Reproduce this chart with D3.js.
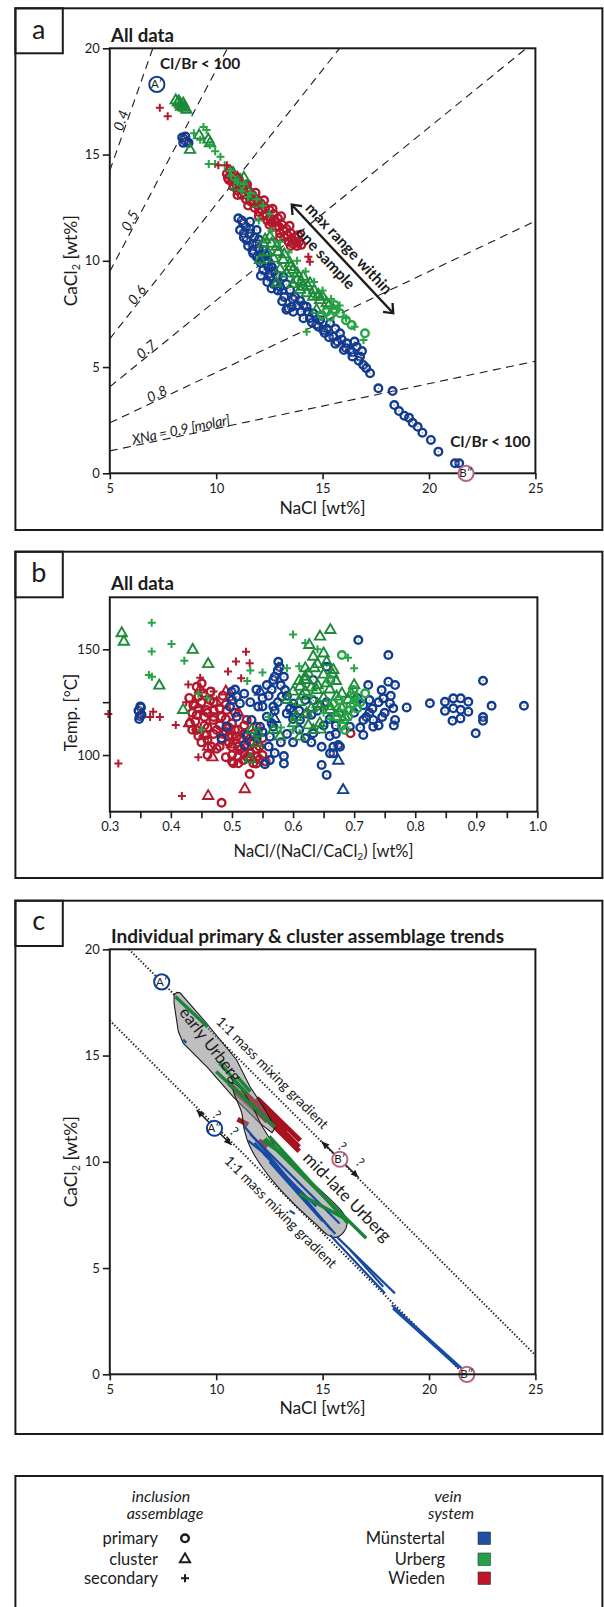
<!DOCTYPE html>
<html>
<head>
<meta charset="utf-8">
<script src="https://cdnjs.cloudflare.com/ajax/libs/d3/7.8.5/d3.min.js"></script>
<style>
  body { margin: 0; background: #fff; }
  svg { display: block; }
  text { font-family: Lato, "Open Sans", sans-serif; fill: #1b1b1b; }
</style>
</head>
<body>
<script>
// ---------- data: panel a (NaCl wt%, CaCl2 wt%) ----------
const aMuPrimary = [
  [8.4,15.8],[8.5,15.7],[8.6,15.6],[8.45,15.55],[8.55,15.85],[8.7,15.55],
  [11.04,12.0],[11.27,11.76],[11.59,11.84],[11.12,11.45],[11.59,11.29],[11.9,11.45],[11.43,10.98],[11.9,10.82],
  [12.21,10.51],[11.74,10.35],[12.37,10.04],[12.21,9.57],[12.53,9.25],[12.84,8.94],[13.15,9.25],
  [11.9,10.19],[12.37,9.88],[12.53,9.41],[13.0,8.78],[13.47,8.63],[13.55,7.84],[13.62,7.6],[13.94,8.12],
  [14.25,7.84],[14.56,7.53],[14.88,7.21],[15.03,6.74],[15.35,7.06],[15.5,6.43],[15.82,6.59],[16.13,6.12],
  [16.29,5.8],[16.6,5.96],[16.76,5.49],[16.91,5.1],[17.23,4.71],[13.39,7.76],
  [11.3,11.3],[11.7,10.8],[12.0,10.1],[12.6,9.7],[12.9,9.3],[13.3,8.9],[13.7,8.3],[14.0,7.6],[14.4,7.3],
  [14.7,7.0],[15.1,6.6],[15.7,6.2],[16.0,5.8],[16.4,5.5],[12.1,9.9],[12.7,8.9],[13.2,8.3],[14.1,7.9],[15.6,6.8],
  [11.2,11.9],[11.4,11.6],[11.6,11.5],[11.8,11.1],[11.3,11.1],[11.5,10.7],[11.7,10.5],[12.0,10.6],[12.0,11.0],
  [12.3,10.3],[12.45,9.7],[12.7,9.5],[12.1,9.3],[12.4,9.0],[12.6,8.7],[12.9,8.6],[13.1,8.1],[13.3,7.7],[13.6,8.2],
  [13.8,7.9],[14.1,7.3],[14.3,7.6],[14.5,7.1],[14.8,6.9],[14.9,7.4],[15.2,6.8],[15.3,6.4],[15.6,6.1],[15.9,6.3],
  [16.1,5.9],[16.4,5.7],[16.5,6.2],[16.7,5.3],[16.85,5.75],[17.05,4.95],
  [17.62,4.0],[18.29,3.87],[18.37,3.21],[18.59,2.93],[18.84,2.71],[19.06,2.62],[19.23,2.38],[19.47,2.19],
  [19.69,1.91],[20.09,1.57],[20.44,1.02],[21.22,0.47],[21.42,0.47]
];
const aMuCluster = [[12.2,10.2],[12.6,9.8],[13.1,8.6]];
const aUrPrimary = [
  [15.57,7.92],[16.37,6.98],[16.99,6.59],[15.18,7.6],[15.82,7.53],[15.35,7.37],[14.96,7.45],[16.1,7.2],[15.6,7.7]
];
const aUrCluster = [
  [8.1,17.55],[8.2,17.45],[8.3,17.35],[8.4,17.3],[8.5,17.2],[8.6,17.1],[8.25,17.5],[8.45,17.4],[8.35,17.25],
  [8.77,15.22],[9.71,15.53],[9.63,15.7],[9.2,15.9],
  [10.8,14.12],[11.12,13.8],[11.43,13.33],[11.74,13.02],[10.96,13.49],[11.3,13.9],[12.0,12.7],
  [12.21,10.82],[12.84,10.66],[12.53,11.13],[13.15,10.04],[13.62,9.57],[13.47,9.88],[14.09,9.25],[14.41,8.94],
  [12.06,10.04],[12.84,8.94],[13.94,8.63],[14.25,8.47],[14.56,8.31],[14.88,8.15],[15.19,8.0],[14.72,7.68],
  [14.09,8.78],[13.3,9.4],[13.8,9.1],[12.4,10.4],[12.7,10.1],
  [12.3,11.0],[12.6,10.8],[12.9,10.4],[13.2,10.3],[13.5,9.7],[13.8,9.4],[14.0,9.0],[14.3,8.8],[14.6,8.6],
  [14.8,8.4],[15.0,8.3],[15.3,7.9],[15.5,7.7],[13.0,9.6],[13.6,8.9]
];
const aUrSecondary = [
  [9.4,16.3],[9.55,16.15],[8.95,16.0],[9.25,15.7],[9.7,15.45],[9.95,15.15],[10.2,14.9],[9.65,14.55],[9.95,14.55],
  [10.65,14.25],[10.4,14.5],[10.9,13.8],[11.3,13.6],[11.6,13.2],[11.9,12.9],[12.2,12.6],[12.0,11.9],[12.5,12.2],
  [12.6,11.4],[13.0,10.9],[13.4,10.4],[13.8,10.0],[14.2,9.5],[14.6,9.0],[15.0,8.6],[15.4,8.2],[15.8,7.9],
  [14.25,6.66],[16.92,6.27],[16.5,6.9],[16.1,7.3],[10.7,14.0],[11.0,13.7],[11.2,13.3],[11.5,13.0]
];
const aWiPrimary = [
  [10.5,14.1],[10.7,14.0],[10.6,13.8],[10.9,13.8],[10.8,13.5],[11.1,13.6],[11.0,13.3],[11.3,13.5],[11.2,13.1],
  [11.5,13.3],[11.4,12.9],[11.7,13.1],[11.6,12.8],[11.9,12.9],[11.8,12.5],[12.1,12.7],[12.0,12.3],[12.3,12.5],
  [12.2,12.1],[12.5,12.4],[12.4,11.9],[12.7,12.2],[12.6,11.8],[12.9,12.0],[12.8,11.6],[13.1,11.7],[13.0,11.3],
  [13.3,11.5],[13.2,11.1],[13.5,11.3],[13.4,10.9],[13.7,11.1],[13.6,10.8],[13.9,10.9],[13.8,10.7],[14.0,10.75],
  [10.55,13.9],[10.75,13.75],[10.95,13.55],[11.15,13.35],[11.35,13.15],[11.55,13.0],[11.75,12.75],[11.95,12.6],
  [12.15,12.4],[12.35,12.2],[12.55,12.0],[12.75,11.85],[12.95,11.6],[13.15,11.45],[13.35,11.2],[13.55,11.05],
  [13.75,10.85],[10.65,14.25],[11.05,13.9],[11.45,13.6],[11.85,13.2],[12.25,12.85],[12.65,12.45],[13.05,12.1],
  [13.45,11.65],[13.85,11.2],[11.0,13.1],[11.5,12.6],[12.0,12.1],[12.5,11.7],[13.0,11.1],[13.5,10.7]
];
const aWiCluster = [[11.0,13.9],[12.0,12.8],[11.5,13.4],[12.8,11.8]];
const aWiSecondary = [[7.35,17.2],[7.72,16.8],[10.1,14.5],[10.5,14.5],[14.33,10.19],[14.4,9.95]];

// molar fraction XNa isolines
const XNA = [0.4, 0.5, 0.6, 0.7, 0.8, 0.9];
const XNA_LABELS = ["0.4", "0.5", "0.6", "0.7", "0.8", "XNa = 0.9 [molar]"];
const M_NACL = 58.44, M_CACL2 = 110.98;

// ---------- data: panel b (NaCl/(NaCl+CaCl2), homogenisation T in °C) ----------
const bMuPrimary = [
  [0.347,121],[0.350,123],[0.352,119],[0.348,117],[0.351,122.5],[0.349,118.5],
  [0.4995,129.9],[0.5077,127.6],[0.513,124.4],[0.4968,122.9],[0.5077,118.1],[0.491,113.4],[0.483,107.9],[0.521,104.7],
  [0.557,133.1],[0.5677,135.5],[0.5758,144.1],[0.578,141.6],[0.543,122.9],[0.557,118.1],[0.5459,113.4],[0.5677,122.9],
  [0.5814,127.6],[0.5868,130.7],[0.5622,108.7],[0.554,95.7],[0.562,97.6],[0.585,99.5],[0.585,96.0],[0.5405,107.9],
  [0.532,116.6],[0.5896,119.7],[0.6004,124.4],[0.6223,119.7],[0.633,110.3],[0.6468,103.9],[0.6468,95.3],[0.655,90.6],
  [0.6605,100.8],[0.6659,103.9],[0.6768,103.9],[0.633,135.5],[0.655,141.8],[0.661,135.5],[0.633,125.8],[0.6113,116.6],
  [0.5677,113.4],[0.524,109.5],[0.61,112],[0.62,108],[0.63,106],[0.655,125],[0.66,117],[0.67,110],[0.55,127],
  [0.565,131],[0.575,125],[0.59,110],[0.6,106],
  [0.5,126],[0.505,131],[0.52,129],[0.53,125],[0.54,131],[0.55,123],[0.56,128],[0.57,121],[0.58,133],[0.585,137],
  [0.59,128],[0.595,122],[0.6,117],[0.61,121],[0.62,126],[0.63,119],[0.64,121],[0.65,114],[0.66,109],[0.67,114],
  [0.7,120],[0.71,113],[0.72,118],[0.73,122],[0.74,125],[0.75,120],[0.76,128],[0.765,114],[0.705,127],[0.725,126],
  [0.56,104],[0.57,101],[0.58,106],[0.55,111],[0.565,115],[0.575,140],[0.57,137],
  [0.7068,154.4],[0.756,147.3],[0.723,133.1],[0.756,134.7],[0.767,133.1],[0.745,130.7],[0.7477,126.8],[0.7587,124.4],
  [0.764,122.1],[0.767,116.6],[0.786,122.5],[0.824,124.5],[0.8487,125.2],[0.8487,120.9],[0.8623,126.8],[0.8623,122.1],
  [0.8744,126.8],[0.8744,121.4],[0.8869,125.2],[0.8869,120.5],[0.861,116.2],[0.874,117.3],[0.911,135.1],[0.925,123.3],
  [0.911,118],[0.911,116.2],[0.899,110.3],[0.978,123.3],[0.715,116.6],[0.7313,116.6],[0.7313,113.4],[0.715,109.5],
  [0.693,113.4],[0.674,104.7],[0.666,100.8],[0.746,118],[0.715,123.6],[0.725,120],[0.74,114]
];
const bMuCluster = [[0.682,83.4],[0.674,97.3],[0.546,129.9],[0.6,121],[0.57,117]];
const bUrPrimary = [
  [0.68,147.3],[0.699,130.7],[0.718,129.2],[0.68,113.9],[0.6822,122.9],[0.699,124.4],[0.6714,118.1],[0.685,111.8],
  [0.666,124.4],[0.66,135.5],[0.69,118.1],[0.7,128],[0.71,125],[0.675,126],[0.69,121],[0.705,122]
];
const bUrCluster = [
  [0.3195,157.6],[0.323,153.6],[0.381,132.8],[0.4357,149.7],[0.461,143],[0.644,156],[0.6266,152],[0.661,159.1],
  [0.42,121.3],[0.532,111.8],[0.543,110.3],[0.5405,105.5],[0.5677,111.8],[0.5786,108.7],[0.6004,115],[0.6113,108.7],
  [0.6195,135.5],[0.6249,138.6],[0.633,146.5],[0.6113,132.3],[0.6387,130.7],[0.655,133.9],[0.6659,140.2],[0.6714,127.6],
  [0.644,122.9],[0.6223,119.7],[0.6605,121.3],[0.6823,116.6],[0.644,115],[0.633,111.8],[0.5295,98],
  [0.61,125],[0.615,128],[0.63,132],[0.64,124],[0.65,127],[0.66,131],[0.67,135],[0.68,129],[0.69,126],[0.62,137],
  [0.635,141],[0.655,144],[0.665,138],[0.6,130],[0.59,126],[0.605,118],[0.625,114],[0.645,112],[0.675,120],[0.685,118],
  [0.64,133],[0.65,138],[0.62,130],[0.63,122],[0.66,123],[0.67,118],[0.68,122],[0.695,129],[0.7,133],[0.61,135],
  [0.62,141],[0.64,143],[0.65,148]
];
const bUrSecondary = [
  [0.3686,162.6],[0.3686,149],[0.364,137.8],[0.369,137],[0.401,152.5],[0.422,144.6],[0.6,157],[0.62,153],[0.64,150],
  [0.59,141],[0.55,139],[0.53,140],[0.46,127],[0.445,129],[0.525,135],[0.61,142],[0.69,146],[0.7,141],[0.65,120],
  [0.63,128],[0.56,118],[0.58,113],[0.6,112],[0.66,117],[0.7,125],[0.45,112]
];
const bWiPrimary = [
  [0.4422,132.3],[0.4449,127.6],[0.4367,123.6],[0.4422,118.9],[0.4313,115],[0.4422,111.8],[0.4586,109.5],[0.4694,116.6],
  [0.475,111.8],[0.4832,107.1],[0.494,108.7],[0.4995,103.9],[0.5022,96.1],[0.5185,97.6],[0.535,96.1],[0.5295,100.8],
  [0.513,102.4],[0.5077,108.7],[0.524,108.7],[0.535,105.5],[0.5405,113.4],[0.524,116.6],[0.4968,127.6],[0.4913,121.3],
  [0.4586,121.3],[0.464,126],[0.453,129.2],[0.483,118.1],[0.4668,103.9],[0.4504,133.9],[0.529,91],[0.483,77.4],
  [0.5405,99.2],[0.5104,96.1],[0.694,110.3],
  [0.46,120],[0.47,125],[0.48,114],[0.49,111],[0.5,115],[0.51,112],[0.52,110],[0.53,106],[0.54,103],[0.55,100],
  [0.5,109],[0.48,104],[0.46,113],[0.45,106],[0.47,118],[0.52,101],[0.545,98],[0.555,97],[0.51,104],[0.49,99],
  [0.43,127],[0.435,120],[0.44,116],[0.445,109],[0.45,125],[0.455,118],[0.46,107],[0.465,130],[0.47,110],[0.475,103],
  [0.48,122],[0.485,128],[0.49,117],[0.495,106],[0.5,100],[0.505,112],[0.51,99],[0.515,108],[0.52,114],[0.525,104],
  [0.53,99],[0.535,110],[0.54,96],[0.545,104],[0.55,108],[0.505,120],[0.49,124],[0.47,121],[0.455,114],[0.445,122],
  [0.435,112],[0.5,97],[0.515,103],[0.53,101],[0.485,110],[0.495,113],[0.46,100],[0.525,99]
];
const bWiCluster = [
  [0.461,80.6],[0.521,83.8],[0.468,98.9],[0.461,103.9],[0.475,124.7],[0.4477,131],[0.44,124],[0.5,105],[0.43,115],
  [0.49,130],[0.51,120],[0.455,110]
];
const bWiSecondary = [
  [0.2976,119.4],[0.314,96],[0.371,120.5],[0.382,118],[0.366,118],[0.408,114.2],[0.418,80.6],[0.4285,133.4],
  [0.445,98.9],[0.448,136.6],[0.523,148.9],[0.5065,144.2],[0.529,143.4],[0.4935,139.5],[0.515,136.3],[0.425,125],
  [0.44,112],[0.47,130],[0.45,121]
];

// ---------- data: panel c trend segments [NaCl1, CaCl21, NaCl2, CaCl22] ----------
const cWiSegments = [
  [10.6,13.7,12.4,11.9],[11.2,13.4,13.9,10.7],[11.6,12.7,13.6,10.9],[12.0,12.9,13.4,11.5],[12.4,12.0,13.9,10.5],
  [11.0,12.0,11.5,11.75],[12.0,11.0,12.4,10.7],[10.9,13.3,12.0,12.3],[11.9,13.0,13.95,11.0]
];
const cMuSegments = [
  [11.3,11.7,15.4,6.8],[11.6,11.3,15.8,7.1],[12.2,10.4,14.7,7.9],[11.8,10.9,13.5,9.0],[12.5,10.0,15.0,7.2],
  [13.0,9.5,15.6,6.6],[11.5,11.0,12.5,10.2],[15.35,6.56,17.93,3.81],[15.66,6.48,18.4,3.81],[16.3,5.85,17.85,4.12],
  [18.25,3.26,21.54,0.28],[18.3,3.1,21.4,0.3],[13.45,7.7,13.7,7.55],[8.45,15.75,8.6,15.6]
];
const cUrSegments = [
  [8.1,17.75,9.6,16.35],[10.15,14.65,11.45,13.2],[10.0,14.25,12.75,11.65],[12.3,11.1,17.05,6.4],[12.5,11.2,16.2,7.1],
  [13.9,8.5,16.1,7.3],[11.0,14.0,11.6,13.3],[12.2,11.0,13.5,10.1]
];
// assemblage envelopes
const cEarlyUrberg = [
  [8.02,17.85],[8.15,17.97],[8.3,17.95],[9.55,16.52],[10.96,14.79],[11.59,13.53],[12.21,12.59],[12.78,11.6],
  [12.62,11.37],[12.06,11.81],[10.8,13.06],[9.63,14.4],[8.45,15.58],[8.22,16.13],[8.02,17.46]
];
const cMidLateUrberg = [
  [10.75,13.7],[11.1,13.5],[11.7,12.6],[12.2,11.6],[13.15,10.24],[14.72,8.83],[15.97,7.58],[16.15,7.1],[16.0,6.7],
  [15.65,6.45],[15.25,6.55],[14.72,7.03],[13.62,8.05],[12.37,9.46],[11.59,10.71],[11.3,11.6],[11.2,12.3],[10.85,13.2]
];
// 1:1 mass mixing lines [NaCl1, CaCl21, NaCl2, CaCl22]
const cMixLines = [[5.9,20,25,0.9],[5,16.65,21.65,0]];

// ---------- styling ----------
const INK = "#1b1b1b";
const COL = { mu: "#0e3d91", ur: "#1d8a3a", urLight: "#27a545", wi: "#b3182d", mauve: "#b3668a" };
const LEG = { mu: "#1f4ea3", ur: "#22a14a", wi: "#c0142c" };

const svg = d3.select("body").append("svg").attr("width", 604).attr("height", 1607);
const defs = svg.append("defs");
defs.append("marker").attr("id", "chev").attr("viewBox", "-12 -8 14 16")
  .attr("refX", 0).attr("refY", 0).attr("markerWidth", 14).attr("markerHeight", 16)
  .attr("markerUnits", "userSpaceOnUse").attr("orient", "auto-start-reverse")
  .append("path").attr("d", "M-8,-6.5 L0,0 L-8,6.5").attr("fill", "none")
  .attr("stroke", INK).attr("stroke-width", 2.3);
defs.append("marker").attr("id", "headC").attr("viewBox", "-9 -5 10 10")
  .attr("refX", 0).attr("refY", 0).attr("markerWidth", 10).attr("markerHeight", 10)
  .attr("markerUnits", "userSpaceOnUse").attr("orient", "auto-start-reverse")
  .append("path").attr("d", "M-7.5,-3.4 L0,0 L-7.5,3.4 Z").attr("fill", INK);

// ---------- helpers ----------
function frame(top, bottom, letterBoxBottom, letter, letterBaseline) {
  svg.append("rect").attr("x", 15.4).attr("y", top).attr("width", 602.4 - 15.4).attr("height", bottom - top)
    .attr("fill", "none").attr("stroke", INK).attr("stroke-width", 2);
  if (letter) {
    svg.append("rect").attr("x", 15.4).attr("y", top).attr("width", 62.8 - 15.4).attr("height", letterBoxBottom - top)
      .attr("fill", "none").attr("stroke", INK).attr("stroke-width", 2);
    svg.append("text").attr("x", 38.8).attr("y", letterBaseline).attr("text-anchor", "middle")
      .attr("font-size", 27).text(letter);
  }
}

function plotBox(g, x, y) {
  const [x0, x1] = x.range(), [y0, y1] = y.range();
  g.append("rect").attr("x", x0).attr("y", y1).attr("width", x1 - x0).attr("height", y0 - y1)
    .attr("fill", "none").attr("stroke", INK).attr("stroke-width", 2);
}

function styleAxis(sel) {
  sel.select(".domain").remove();
  sel.selectAll(".tick line").attr("stroke", INK).attr("stroke-width", 1.6);
  sel.selectAll(".tick text").attr("font-family", "Lato, 'Open Sans', sans-serif")
    .attr("font-size", 13).attr("fill", INK);
}

function marks(g, pts, x, y, kind, color, dot) {
  if (kind === "primary") {
    g.append("g").selectAll("circle").data(pts).join("circle")
      .attr("cx", d => x(d[0])).attr("cy", d => y(d[1])).attr("r", 3.8)
      .attr("fill", "none").attr("stroke", color).attr("stroke-width", 2.4);
    if (dot) {
      g.append("g").selectAll("circle").data(pts).join("circle")
        .attr("cx", d => x(d[0])).attr("cy", d => y(d[1])).attr("r", 0.8).attr("fill", dot);
    }
  } else if (kind === "cluster") {
    const tri = d3.symbol(d3.symbolTriangle, 46)();
    g.append("g").selectAll("path").data(pts).join("path")
      .attr("d", tri).attr("transform", d => `translate(${x(d[0])},${y(d[1])})`)
      .attr("fill", "none").attr("stroke", color).attr("stroke-width", 1.9);
  } else {
    g.append("g").selectAll("path").data(pts).join("path")
      .attr("d", "M-4,0H4M0,-4V4").attr("transform", d => `translate(${x(d[0])},${y(d[1])})`)
      .attr("fill", "none").attr("stroke", color).attr("stroke-width", 2);
  }
}

function endMember(g, px, py, label, color) {
  g.append("circle").attr("cx", px).attr("cy", py).attr("r", 7.6).attr("fill", "#fff")
    .attr("stroke", color).attr("stroke-width", 2);
  g.append("text").attr("x", px).attr("y", py + 4).attr("text-anchor", "middle")
    .attr("font-size", 11.5).text(label);
}

function subLabel(g, x, y, rotate, parts, size) {
  const t = g.append("text").attr("transform", `translate(${x},${y}) rotate(${rotate})`)
    .attr("text-anchor", "middle").attr("font-size", size);
  parts.forEach(p => {
    const s = t.append("tspan").text(p.t);
    if (p.sub) s.attr("font-size", size * 0.62).attr("dy", 3);
    if (p.after) s.attr("dy", -3);
  });
  return t;
}

function title(g, y, str, len) {
  const t = g.append("text").attr("x", 111).attr("y", y).attr("font-weight", 700).attr("font-size", 19).text(str);
  if (len) t.attr("textLength", len).attr("lengthAdjust", "spacingAndGlyphs");
}

// ================= panel a =================
frame(8.3, 530, 53.3, "a", 38.5);
const xA = d3.scaleLinear().domain([5, 25]).range([109.8, 535.4]);
const yA = d3.scaleLinear().domain([0, 20]).range([473.3, 48.3]);
const gA = svg.append("g");

// XNa isolines
const labelAtNaCl = [5.8, 6.2, 6.5, 6.9, 7.35, 8.4];
XNA.forEach((xn, i) => {
  const s = (1 - xn) / xn * M_CACL2 / M_NACL;
  const n1 = Math.min(25, 20 / s);
  gA.append("line").attr("x1", xA(5)).attr("y1", yA(5 * s)).attr("x2", xA(n1)).attr("y2", yA(n1 * s))
    .attr("stroke", INK).attr("stroke-width", 1.1).attr("stroke-dasharray", "8,5.5");
  const ang = -Math.atan2(yA(0) - yA(s), xA(1) - xA(0)) * 180 / Math.PI;
  const ln = labelAtNaCl[i];
  const t = gA.append("text").attr("transform", `translate(${xA(ln)},${yA(ln * s)}) rotate(${ang})`)
    .attr("dy", -1.2).attr("text-anchor", "middle").attr("font-size", 14).attr("font-style", "italic")
    .text(XNA_LABELS[i]);
  if (i === XNA.length - 1) t.attr("textLength", 100).attr("lengthAdjust", "spacing");
  else t.attr("letter-spacing", 0.6);
});

gA.append("g").attr("transform", `translate(0,${yA(0)})`)
  .call(d3.axisBottom(xA).tickValues([5, 10, 15, 20, 25]).tickSize(6).tickPadding(4).tickFormat(d3.format("d")))
  .call(styleAxis);
gA.append("g").attr("transform", `translate(${xA(5)},0)`)
  .call(d3.axisLeft(yA).tickValues([0, 5, 10, 15, 20]).tickSize(7).tickPadding(3).tickFormat(d3.format("d")))
  .call(styleAxis);

marks(gA, aMuPrimary, xA, yA, "primary", COL.mu, "#e36a80");
marks(gA, aMuCluster, xA, yA, "cluster", COL.mu);
marks(gA, aWiPrimary, xA, yA, "primary", COL.wi);
marks(gA, aUrCluster, xA, yA, "cluster", COL.ur);
marks(gA, aUrPrimary, xA, yA, "primary", COL.urLight);
marks(gA, aWiCluster, xA, yA, "cluster", COL.wi);
marks(gA, aUrSecondary, xA, yA, "secondary", COL.urLight);
marks(gA, aWiSecondary, xA, yA, "secondary", COL.wi);

plotBox(gA, xA, yA);

endMember(gA, xA(7.21), yA(18.3), "A′", COL.mu);
endMember(gA, xA(21.74), yA(0), "B″", COL.mauve);

title(gA, 41.7, "All data", 63);
gA.append("text").attr("x", xA(7.36)).attr("y", yA(19.03)).attr("font-weight", 700).attr("font-size", 15.5).text("Cl/Br < 100");
gA.append("text").attr("x", xA(21.0)).attr("y", yA(1.24)).attr("font-weight", 700).attr("font-size", 15.5).text("Cl/Br < 100");

// range arrow
{
  const p0 = [xA(13.55), yA(12.64)], p1 = [xA(18.32), yA(7.53)];
  gA.append("line").attr("x1", p0[0]).attr("y1", p0[1]).attr("x2", p1[0]).attr("y2", p1[1])
    .attr("stroke", INK).attr("stroke-width", 2.4)
    .attr("marker-start", "url(#chev)").attr("marker-end", "url(#chev)");
  const ang = Math.atan2(p1[1] - p0[1], p1[0] - p0[0]) * 180 / Math.PI;
  const t = gA.append("g").attr("transform", `translate(${p0[0]},${p0[1]}) rotate(${ang})`);
  t.append("text").attr("x", 71).attr("y", -6.5).attr("text-anchor", "middle").attr("font-weight", 700)
    .attr("font-size", 15.5).text("max range within");
  t.append("text").attr("x", 62).attr("y", 17).attr("text-anchor", "middle").attr("font-weight", 700)
    .attr("font-size", 15.5).text("one sample");
}

gA.append("text").attr("x", xA(15)).attr("y", 513.5).attr("text-anchor", "middle").attr("font-size", 17.5).text("NaCl [wt%]");
subLabel(gA, 77, (yA(0) + yA(20)) / 2, -90,
  [{ t: "CaCl" }, { t: "2", sub: true }, { t: " [wt%]", after: true }], 17.5);

// ================= panel b =================
frame(551.7, 878, 597.3, "b", 581.7);
const xB = d3.scaleLinear().domain([0.3, 1.0]).range([109.8, 537.4]);
const yB = d3.scaleLinear().domain([73.2, 174.6]).range([811.7, 597.3]);
const gB = svg.append("g");

gB.append("g").attr("transform", `translate(0,${yB.range()[0]})`)
  .call(d3.axisBottom(xB).tickValues(d3.range(0.3, 1.0001, 0.05)).tickSize(6.5).tickPadding(4)
    .tickFormat(d => (Math.round(d * 100) % 10 === 0) ? d3.format(".1f")(d) : ""))
  .call(styleAxis);
gB.append("g").attr("transform", `translate(${xB(0.3)},0)`)
  .call(d3.axisLeft(yB).tickValues([100, 125, 150]).tickSize(7).tickPadding(3)
    .tickFormat(d => d === 125 ? "" : d3.format("d")(d)))
  .call(styleAxis);

marks(gB, bWiPrimary, xB, yB, "primary", COL.wi);
marks(gB, bWiCluster, xB, yB, "cluster", COL.wi);
marks(gB, bWiSecondary, xB, yB, "secondary", COL.wi);
marks(gB, bMuPrimary, xB, yB, "primary", COL.mu, "#e36a80");
marks(gB, bMuCluster, xB, yB, "cluster", COL.mu);
marks(gB, bUrCluster, xB, yB, "cluster", COL.ur);
marks(gB, bUrPrimary, xB, yB, "primary", COL.urLight);
marks(gB, bUrSecondary, xB, yB, "secondary", COL.urLight);

plotBox(gB, xB, yB);

title(gB, 590, "All data", 63);
subLabel(gB, xB(0.65), 857, 0,
  [{ t: "NaCl/(NaCl/CaCl" }, { t: "2", sub: true }, { t: ") [wt%]", after: true }], 16.5);
gB.append("text").attr("transform", `translate(77,712.5) rotate(-90)`).attr("text-anchor", "middle")
  .attr("font-size", 17).text("Temp. [°C]");

// ================= panel c =================
frame(900.7, 1434, 946, "c", 930);
const xC = d3.scaleLinear().domain([5, 25]).range([109.8, 535.4]);
const yC = d3.scaleLinear().domain([0, 20]).range([1374.3, 949.3]);
const gC = svg.append("g");

gC.append("g").attr("transform", `translate(0,${yC(0)})`)
  .call(d3.axisBottom(xC).tickValues([5, 10, 15, 20, 25]).tickSize(6).tickPadding(4).tickFormat(d3.format("d")))
  .call(styleAxis);
gC.append("g").attr("transform", `translate(${xC(5)},0)`)
  .call(d3.axisLeft(yC).tickValues([0, 5, 10, 15, 20]).tickSize(7).tickPadding(3).tickFormat(d3.format("d")))
  .call(styleAxis);

cMixLines.forEach(l => {
  gC.append("line").attr("x1", xC(l[0])).attr("y1", yC(l[1])).attr("x2", xC(l[2])).attr("y2", yC(l[3]))
    .attr("stroke", INK).attr("stroke-width", 2).attr("stroke-dasharray", "1.3,2");
});

const seg = (g, data, color, width) => g.append("g").selectAll("line").data(data).join("line")
  .attr("x1", d => xC(d[0])).attr("y1", d => yC(d[1])).attr("x2", d => xC(d[2])).attr("y2", d => yC(d[3]))
  .attr("stroke", color).attr("stroke-width", width).attr("stroke-linecap", "butt");

seg(gC, cWiSegments, "#a8121f", 5);

gC.append("path").datum(cEarlyUrberg)
  .attr("d", d3.line().x(d => xC(d[0])).y(d => yC(d[1])).curve(d3.curveLinearClosed))
  .attr("fill", "#7f7f7f").attr("fill-opacity", 0.5).attr("stroke", INK).attr("stroke-width", 1.1);
gC.append("path").datum(cMidLateUrberg)
  .attr("d", d3.line().x(d => xC(d[0])).y(d => yC(d[1])).curve(d3.curveCatmullRomClosed.alpha(0.5)))
  .attr("fill", "#7f7f7f").attr("fill-opacity", 0.5).attr("stroke", INK).attr("stroke-width", 1.1);

seg(gC, cMuSegments, "#174aa3", 2.2);
seg(gC, cUrSegments, "#1a8437", 3.4);

// uncertainty arrows along mixing lines
[[9.08, 12.44, 10.72, 10.79], [14.96, 10.95, 16.68, 9.27]].forEach(a => {
  gC.append("line").attr("x1", xC(a[0])).attr("y1", yC(a[1])).attr("x2", xC(a[2])).attr("y2", yC(a[3]))
    .attr("stroke", INK).attr("stroke-width", 1.5)
    .attr("marker-start", "url(#headC)").attr("marker-end", "url(#headC)");
});
[[213.5, 1118], [231, 1134.5], [339, 1149.5], [357, 1165.5]].forEach(p => {
  gC.append("text").attr("transform", `translate(${p[0]},${p[1]}) rotate(45)`).attr("text-anchor", "middle")
    .attr("font-size", 13).text("?");
});

endMember(gC, xC(7.44), yC(18.47), "A′", COL.mu);
endMember(gC, xC(9.92), yC(11.58), "A″", COL.mu);
endMember(gC, xC(15.81), yC(10.12), "B′", COL.mauve);
endMember(gC, xC(21.78), yC(0), "B″", COL.mauve);

const rot = (g, n, c, ang, str, size, dy) => g.append("text")
  .attr("transform", `translate(${xC(n)},${yC(c)}) rotate(${ang})`).attr("dy", dy)
  .attr("text-anchor", "middle").attr("font-size", size).text(str);
rot(gC, 9.71, 15.5, 52, "early Urberg", 16.5, 5);
rot(gC, 16.13, 8.32, 45.6, "mid-late Urberg", 17, 5);
rot(gC, 12.61, 14.16, 45, "1:1 mass mixing gradient", 14, 4);
rot(gC, 13.0, 7.61, 45, "1:1 mass mixing gradient", 14, 4);

plotBox(gC, xC, yC);

title(gC, 942.7, "Individual primary & cluster assemblage trends", 393);
gC.append("text").attr("x", xC(15)).attr("y", 1414).attr("text-anchor", "middle").attr("font-size", 17.5).text("NaCl [wt%]");
subLabel(gC, 77, (yC(0) + yC(20)) / 2, -90,
  [{ t: "CaCl" }, { t: "2", sub: true }, { t: " [wt%]", after: true }], 17.5);

// ================= legend =================
frame(1476, 1640, null, null, null);
const gL = svg.append("g");
const assemblages = ["primary", "cluster", "secondary"];
const veinSystems = ["Münstertal", "Urberg", "Wieden"];
const veinKeys = ["mu", "ur", "wi"];
const rowY = [1538.3, 1559.3, 1578.3];

gL.append("text").attr("x", 161).attr("y", 1502).attr("text-anchor", "middle").attr("font-size", 16)
  .attr("font-style", "italic").text("inclusion");
gL.append("text").attr("x", 165).attr("y", 1519).attr("text-anchor", "middle").attr("font-size", 16)
  .attr("font-style", "italic").text("assemblage");
gL.append("text").attr("x", 448).attr("y", 1502).attr("text-anchor", "middle").attr("font-size", 16)
  .attr("font-style", "italic").text("vein");
gL.append("text").attr("x", 451).attr("y", 1519).attr("text-anchor", "middle").attr("font-size", 16)
  .attr("font-style", "italic").text("system");

assemblages.forEach((a, i) => {
  gL.append("text").attr("x", 158).attr("y", rowY[i] + 5.5).attr("text-anchor", "end").attr("font-size", 16.5).text(a);
  marks(gL, [[185, rowY[i]]], d => d, d => d, a, INK);
});
veinSystems.forEach((v, i) => {
  gL.append("text").attr("x", 445).attr("y", rowY[i] + 5.5).attr("text-anchor", "end").attr("font-size", 16.5).text(v);
  gL.append("rect").attr("x", 478).attr("y", rowY[i] - 6.3).attr("width", 12.5).attr("height", 12.5)
    .attr("fill", LEG[veinKeys[i]]).attr("stroke", "#333").attr("stroke-width", 0.6);
});
</script>
</body>
</html>
